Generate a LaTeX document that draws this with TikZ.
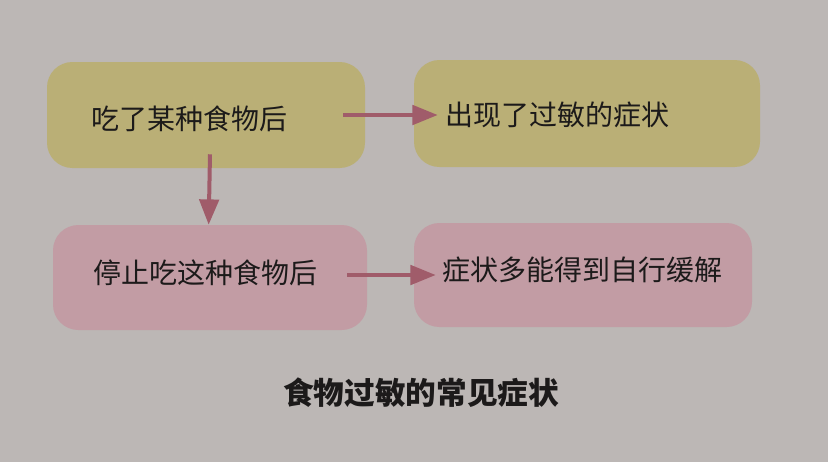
\documentclass[tikz,border=0pt]{standalone}
\usepackage{fontspec}
\usetikzlibrary{arrows.meta}
\newfontfamily\cjk{Noto Sans CJK SC}
\definecolor{pagebg}{RGB}{188,183,181}
\definecolor{olivebox}{RGB}{186,175,118}
\definecolor{pinkbox}{RGB}{194,156,164}
\definecolor{arrowred}{RGB}{160,92,106}
\definecolor{inkgray}{RGB}{28,26,26}
\tikzset{
  box/.style={draw=none, rounded corners=19pt, inner sep=0pt},
  lbl/.style={anchor=west, inner sep=0.75pt, text=inkgray, font=\cjk\fontsize{21}{25}\selectfont},
  flow/.style={draw=arrowred, line width=3pt, -{Triangle[length=19pt,width=14.5pt]}}
}
\begin{document}
\begin{tikzpicture}[x=0.75pt,y=0.75pt,yscale=-1,xscale=1]
%page
\fill [pagebg] (0,0) rectangle (828,462);

%Rounded Rect boxes
\node [box, fill=olivebox, minimum width=238.5pt, minimum height=79.5pt] (eat) at (206,115) {};
\node [box, fill=olivebox, minimum width=259.5pt, minimum height=80.25pt] (react) at (587,113.5) {};
\node [box, fill=pinkbox, minimum width=235.5pt, minimum height=78.75pt] (stop) at (210,277.5) {};
\node [box, fill=pinkbox, minimum width=253.5pt, minimum height=78pt] (relief) at (583,275) {};

% Text Node
\node [lbl] (teat) at (90,119) {吃了某种食物后};
% Text Node
\node [lbl] (treact) at (444,115) {出现了过敏的症状};
% Text Node
\node [lbl] (tstop) at (92,273) {停止吃这种食物后};
% Text Node
\node [lbl] (trelief) at (441,270) {症状多能得到自行缓解};

%Arrows
\draw [flow] ([xshift=-16.5pt]eat.east) -- ([xshift=18pt]react.west |- eat.east);
\draw [flow] ([xshift=-15pt]stop.east |- relief.east) -- ([xshift=16.5pt]relief.west);
\draw [flow] ([xshift=3pt,yshift=-10.5pt]eat.south) -- ([xshift=-1pt]stop.north);

% Caption
\node [inner sep=0.75pt, text=inkgray, font=\cjk\bfseries\fontsize{23}{27}\selectfont] (caption) at (421,393) {食物过敏的常见症状};
\end{tikzpicture}
\end{document}
